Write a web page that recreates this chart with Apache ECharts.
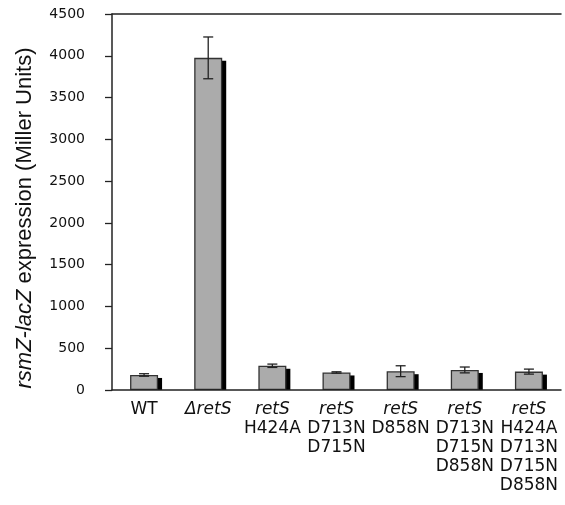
<!DOCTYPE html>
<html>
<head>
<meta charset="utf-8">
<script src="https://cdn.jsdelivr.net/npm/echarts@6/dist/echarts.min.js"></script>
<style>
  html, body { margin: 0; padding: 0; background: #fff; }
</style>
</head>
<body>
<div id="main" style="width: 565px;height:505px;"></div>
<script type="text/javascript">
    // strains on the x axis
    var strains = ['WT', 'ΔretS', 'retS\nH424A', 'retS\nD713N\nD715N', 'retS\nD858N',
        'retS\nD713N\nD715N\nD858N', 'retS\nH424A\nD713N\nD715N\nD858N'];
    // mean expression (Miller units) and error
    var expression = [180, 3975, 290, 210, 225, 240, 220];
    var errors = [15, 250, 20, 8, 65, 35, 30];
    var yTicks = [0, 500, 1000, 1500, 2000, 2500, 3000, 3500, 4000, 4500];

    var myChart = echarts.init(document.getElementById('main'));
    var font = 'DejaVu Sans, Verdana, sans-serif';
    var nameFont = 'Liberation Sans, Arial, sans-serif';

    var errData = expression.map(function (v, i) { return [i, v, errors[i]]; });
    var shadowData = expression.map(function (v, i) { return [i, v]; });

    option = {
        animation: false,
        grid: { left: 112, right: 4, top: 14, bottom: 115 },
        xAxis: [{
            type: 'category',
            data: strains,
            z: 5,
            axisLine: { lineStyle: { color: '#222', width: 1.5 } },
            axisTick: { length: 5, lineStyle: { color: '#444' } },
            axisLabel: {
                color: '#111', fontFamily: font, fontSize: 17, margin: 10,
                lineHeight: 19, interval: 0,
                formatter: function (v) {
                    return v.replace(/(Δ?retS)/, '{i|$1}');
                },
                rich: { i: { fontStyle: 'italic', fontSize: 17, fontFamily: font } }
            }
        }, {
            type: 'category',
            position: 'top',
            data: strains,
            axisLine: { lineStyle: { color: '#222', width: 1.5 } },
            axisTick: { show: false },
            axisLabel: { show: false }
        }],
        yAxis: {
            type: 'value',
            min: yTicks[0],
            max: yTicks[yTicks.length - 1],
            interval: 500,
            splitLine: { show: false },
            axisLine: { show: true, lineStyle: { color: '#222', width: 1.5 } },
            axisTick: { show: true, length: 7, lineStyle: { color: '#222', width: 1.3 } },
            axisLabel: {
                color: '#111', fontFamily: font, fontSize: 14, margin: 27,
                formatter: function (v) { return String(v); }
            },
            name: '{i|rsmZ-lacZ} expression (Miller Units)',
            nameLocation: 'middle',
            nameGap: 76,
            nameTextStyle: {
                color: '#111', fontFamily: nameFont, fontSize: 22, padding: [0, 32, 0, 0],
                rich: { i: { fontStyle: 'italic', fontSize: 22, fontFamily: nameFont } }
            }
        },
        series: [{
            // black drop shadow behind each bar
            type: 'custom',
            z: 1,
            data: shadowData,
            renderItem: function (params, api) {
                var top = api.coord([api.value(0), api.value(1)]);
                var base = api.coord([api.value(0), 0]);
                return {
                    type: 'rect',
                    shape: { x: top[0] - 10, y: top[1] + 3, width: 28, height: base[1] - top[1] - 3 },
                    style: { fill: '#000' }
                };
            }
        }, {
            type: 'bar',
            z: 2,
            data: expression,
            barWidth: 28,
            itemStyle: {
                color: '#ababab',
                borderColor: '#333',
                borderWidth: 1.3
            }
        }, {
            type: 'custom',
            z: 4,
            data: errData,
            renderItem: function (params, api) {
                var x = api.value(0);
                var v = api.value(1), e = api.value(2);
                var hi = api.coord([x, v + e]);
                var lo = api.coord([x, v - e]);
                var cx = hi[0];
                var style = { stroke: '#222', lineWidth: 1.3 };
                return {
                    type: 'group',
                    children: [
                        { type: 'line', shape: { x1: cx, y1: hi[1], x2: cx, y2: lo[1] }, style: style },
                        { type: 'line', shape: { x1: cx - 5, y1: hi[1], x2: cx + 5, y2: hi[1] }, style: style },
                        { type: 'line', shape: { x1: cx - 5, y1: lo[1], x2: cx + 5, y2: lo[1] }, style: style }
                    ]
                };
            }
        }]
    };

    myChart.setOption(option);
</script>
</body>
</html>
